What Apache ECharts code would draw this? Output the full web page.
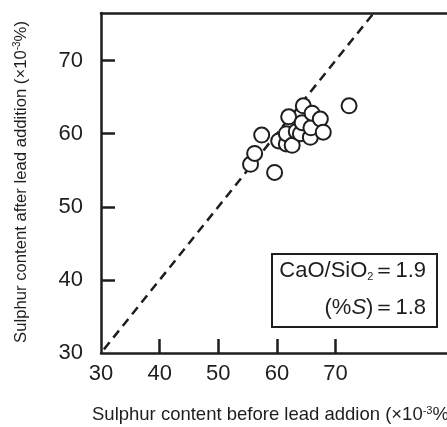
<!DOCTYPE html>
<html lang="en">
<head>
    <meta charset="UTF-8">
    <title>Sulphur content before / after lead addition</title>
    <script src="https://cdn.jsdelivr.net/npm/echarts@6.0.0/dist/echarts.min.js"></script>
    <style>
        html, body { margin: 0; padding: 0; background: #fff; }
        #chart { width: 447px; height: 427px; }
    </style>
</head>
<body>
<div id="chart"></div>
<script>
    // data (x10^-3 %)
    var sulphurBefore = [55.5, 56.2, 57.4, 59.6, 60.3, 61.6, 61.6, 62.0, 62.6, 63.3, 64.0, 64.3, 64.5, 65.7, 65.8, 66.0, 67.4, 67.9, 72.3];
    var sulphurAfter  = [55.8, 57.3, 59.8, 54.7, 59.0, 58.6, 60.0, 62.3, 58.4, 60.3, 60.0, 61.5, 63.8, 59.5, 60.8, 62.8, 62.0, 60.2, 63.8];
    var xTickLabels = [30, 40, 50, 60, 70];
    var yTickLabels = [30, 40, 50, 60, 70];
    var innerTicks = [40, 50, 60, 70];
    var equalLine = [[30.5, 30.5], [76.5, 76.5]];

    var ink = '#1e1e1e';
    var textFont = '"Liberation Sans", Arial, sans-serif';

    var points = sulphurBefore.map(function (v, i) { return [v, sulphurAfter[i]]; });

    var chart = echarts.init(document.getElementById('chart'));

    chart.setOption({
        animation: false,
        grid: { left: 101, top: 13, right: 0, bottom: 74, outerBoundsMode: 'none', containLabel: false },
        xAxis: [{
            type: 'value', min: 30, max: 89, interval: 10,
            splitLine: { show: false },
            axisLine: { lineStyle: { color: ink, width: 2.5 } },
            axisTick: { inside: true, length: 14, customValues: innerTicks, lineStyle: { color: ink, width: 2.5 } },
            axisLabel: { customValues: xTickLabels, margin: 10, color: ink, fontSize: 22, fontFamily: textFont }
        }, {
            type: 'value', position: 'top', min: 30, max: 89,
            splitLine: { show: false },
            axisLine: { show: true, lineStyle: { color: ink, width: 2.5 } },
            axisTick: { show: false },
            axisLabel: { show: false }
        }],
        yAxis: {
            type: 'value', min: 30, max: 76.5, interval: 10,
            splitLine: { show: false },
            axisLine: { show: true, lineStyle: { color: ink, width: 2.5 } },
            axisTick: { show: true, inside: true, length: 14, customValues: innerTicks, lineStyle: { color: ink, width: 2.5 } },
            axisLabel: { customValues: yTickLabels, margin: 18, color: ink, fontSize: 22, fontFamily: textFont }
        },
        series: [{
            type: 'line',
            data: equalLine,
            symbol: 'none',
            lineStyle: { color: ink, width: 2.5, type: [9, 6] },
            z: 1
        }, {
            type: 'scatter',
            data: points,
            symbol: 'circle',
            symbolSize: 15,
            itemStyle: { color: '#fff', borderColor: ink, borderWidth: 2, opacity: 1 },
            z: 3
        }],
        graphic: [{
            type: 'rect',
            shape: { x: 272, y: 254, width: 165, height: 73 },
            style: { fill: '#fff', stroke: ink, lineWidth: 2 },
            z: 10
        }, {
            type: 'text',
            x: 426, y: 271, z: 11,
            style: {
                text: 'CaO/SiO{sub|2}＝1.9',
                align: 'right', verticalAlign: 'middle',
                fontSize: 22, fontFamily: textFont, fill: ink,
                rich: {
                    sub: { fontSize: 11, fontFamily: textFont, fill: ink, verticalAlign: 'bottom', padding: [10, 0, 0, 0] }
                }
            }
        }, {
            type: 'text',
            x: 426, y: 308, z: 11,
            style: {
                text: '(%{it|S})＝1.8',
                align: 'right', verticalAlign: 'middle',
                fontSize: 22, fontFamily: textFont, fill: ink,
                rich: {
                    it: { fontSize: 22, fontStyle: 'italic', fontFamily: textFont, fill: ink }
                }
            }
        }, {
            type: 'text',
            x: 21, y: 182, rotation: Math.PI / 2,
            style: {
                text: 'Sulphur content after lead addition (×10{sup|-3}%)',
                align: 'center', verticalAlign: 'middle',
                fontSize: 16.7, fontFamily: textFont, fill: ink,
                rich: {
                    sup: { fontSize: 10, fontFamily: textFont, fill: ink, verticalAlign: 'top', padding: [0, 0, 8, 0] }
                }
            }
        }, {
            type: 'text',
            x: 92, y: 415,
            style: {
                text: 'Sulphur content before lead addion (×10{sup|-3}%)',
                align: 'left', verticalAlign: 'middle',
                fontSize: 18.5, fontFamily: textFont, fill: ink,
                rich: {
                    sup: { fontSize: 11, fontFamily: textFont, fill: ink, verticalAlign: 'top', padding: [0, 0, 9, 0] }
                }
            }
        }]
    });
</script>
</body>
</html>
